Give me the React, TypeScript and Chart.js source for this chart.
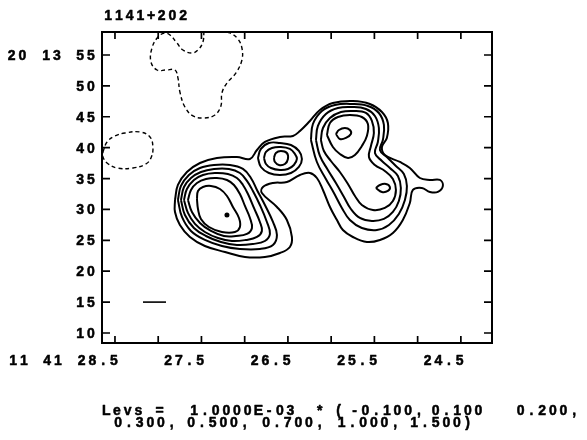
import React, { useEffect, useRef } from "react";
import { Chart, registerables } from "chart.js";

Chart.register(...registerables);

// ---------- DATA ----------
const sourceName = "1141+202";
const raPrefix = ["11", "41"];
const decPrefix = ["20", "13"];
const xTickValues = [28.5, 27.5, 26.5, 25.5, 24.5];
const xTickLabels = ["28.5", "27.5", "26.5", "25.5", "24.5"];
const xMinorTicks = [28.5, 28.0, 27.5, 27.0, 26.5, 26.0, 25.5, 25.0, 24.5];
const yTickValues = [10, 15, 20, 25, 30, 35, 40, 45, 50, 55];
const yTickLabels = ["10", "15", "20", "25", "30", "35", "40", "45", "50", "55"];
const levsLine1 = ["Levs", "=", "1.0000E-03", "*", "(", "-0.100,", "0.100", "0.200,"];
const levsLine2 = ["0.300,", "0.500,", "0.700,", "1.000,", "1.500)"];

// contour paths: [RA seconds, Dec arcsec]
const contourOuter = [
  [27.806, 31.53], [27.772, 33.96], [27.668, 36.06], [27.517, 37.52], [27.321, 38.33], [27.09, 38.49],
  [26.939, 38.17], [26.858, 39.62], [26.766, 40.92], [26.592, 41.73], [26.442, 41.89], [26.361, 42.7],
  [26.246, 44.32], [26.13, 46.1], [25.98, 47.23], [25.749, 47.55], [25.552, 47.07], [25.413, 45.77],
  [25.344, 43.99], [25.356, 41.57], [25.413, 40.11], [25.379, 38.81], [25.205, 37.68], [25.09, 36.71],
  [24.974, 35.09], [24.858, 34.77], [24.743, 34.77], [24.708, 33.8], [24.766, 32.83], [24.858, 32.83],
  [24.951, 33.47], [25.055, 33.15], [25.09, 31.05], [25.171, 28.29], [25.286, 26.19], [25.436, 25.06],
  [25.587, 24.73], [25.749, 25.54], [25.864, 26.67], [25.933, 28.29], [26.014, 30.4], [26.095, 33.15],
  [26.165, 35.09], [26.246, 35.9], [26.361, 35.58], [26.512, 34.44], [26.673, 34.28], [26.789, 33.63],
  [26.801, 32.66], [26.627, 30.4], [26.512, 28.29], [26.454, 25.54], [26.477, 23.92], [26.592, 22.95],
  [26.766, 22.3], [26.997, 22.3], [27.228, 23.11], [27.46, 24.08], [27.633, 25.54], [27.749, 27.48],
  [27.806, 29.59],
];
const contourMid02 = [
  [26.847, 38.33], [26.812, 39.79], [26.72, 40.76], [26.592, 40.76], [26.465, 40.43], [26.373, 39.46],
  [26.338, 38.17], [26.373, 36.87], [26.465, 35.9], [26.592, 35.58], [26.72, 35.9], [26.812, 36.87],
];
const contourMid03 = [
  [26.777, 38.33], [26.754, 39.3], [26.685, 39.95], [26.581, 40.11], [26.477, 39.79], [26.419, 38.98],
  [26.396, 38.17], [26.431, 37.19], [26.5, 36.55], [26.592, 36.39], [26.696, 36.71], [26.754, 37.36],
];
const contourMid05 = [
  [26.662, 38.33], [26.639, 39.14], [26.581, 39.46], [26.512, 39.14], [26.5, 38.17], [26.535, 37.36],
  [26.604, 37.19], [26.65, 37.68],
];
const contourLeft02 = [
  [27.772, 31.53], [27.737, 33.8], [27.645, 35.58], [27.517, 36.71], [27.355, 37.19], [27.17, 37.19],
  [27.02, 36.55], [26.928, 35.09], [26.858, 33.15], [26.766, 30.72], [26.673, 27.97], [26.627, 25.86],
  [26.673, 24.25], [26.824, 23.6], [27.055, 23.6], [27.263, 24.08], [27.46, 25.06], [27.621, 26.51],
  [27.725, 28.78],
];
const contourLeft03 = [
  [27.737, 31.53], [27.702, 33.63], [27.621, 35.09], [27.506, 36.06], [27.355, 36.55], [27.182, 36.55],
  [27.055, 35.9], [26.974, 34.61], [26.905, 32.99], [26.824, 30.72], [26.743, 27.97], [26.708, 26.03],
  [26.766, 24.89], [26.905, 24.41], [27.09, 24.25], [27.275, 24.73], [27.448, 25.7], [27.587, 27.0],
  [27.691, 29.1],
];
const contourLeft05 = [
  [27.702, 31.53], [27.668, 33.31], [27.587, 34.77], [27.483, 35.58], [27.344, 35.9], [27.194, 35.74],
  [27.09, 35.09], [27.02, 33.96], [26.962, 32.5], [26.893, 30.24], [26.824, 27.97], [26.801, 26.51],
  [26.858, 25.54], [26.986, 25.06], [27.147, 24.89], [27.309, 25.38], [27.46, 26.35], [27.575, 27.65],
  [27.656, 29.43],
];
const contourLeft07 = [
  [27.656, 31.53], [27.621, 33.15], [27.552, 34.28], [27.448, 34.93], [27.321, 35.09], [27.205, 34.77],
  [27.124, 33.96], [27.055, 32.5], [26.997, 30.56], [26.939, 28.62], [26.916, 27.0], [26.974, 26.03],
  [27.101, 25.7], [27.24, 25.7], [27.39, 26.51], [27.517, 27.81], [27.61, 29.59],
];
const contourLeft10 = [
  [27.552, 31.69], [27.54, 32.99], [27.483, 33.63], [27.39, 33.8], [27.286, 33.31], [27.205, 32.18],
  [27.136, 30.4], [27.066, 28.62], [27.055, 27.16], [27.113, 26.35], [27.263, 26.35], [27.413, 27.16],
  [27.506, 28.46], [27.54, 30.07],
];
const peakLeft15 = [[27.205, 29.1]];
const contourRight02 = [
  [26.234, 41.24], [26.211, 43.83], [26.107, 45.94], [25.957, 46.91], [25.76, 47.07], [25.575, 46.75],
  [25.448, 45.61], [25.39, 43.67], [25.402, 41.24], [25.436, 39.62], [25.356, 38.49], [25.251, 37.03],
  [25.159, 35.74], [25.124, 33.8], [25.147, 31.53], [25.217, 29.26], [25.332, 27.48], [25.471, 26.67],
  [25.645, 27.0], [25.783, 28.29], [25.876, 30.24], [25.968, 32.66], [26.061, 34.93], [26.165, 37.68],
];
const contourRight03 = [
  [26.176, 41.24], [26.153, 43.51], [26.061, 45.45], [25.922, 46.42], [25.76, 46.58], [25.598, 46.26],
  [25.494, 45.13], [25.448, 43.18], [25.46, 40.92], [25.494, 39.14], [25.413, 37.84], [25.321, 36.71],
  [25.228, 35.41], [25.194, 33.47], [25.217, 31.37], [25.286, 29.59], [25.39, 28.46], [25.529, 28.13],
  [25.668, 28.62], [25.772, 30.07], [25.852, 32.02], [25.945, 34.28], [26.038, 36.39], [26.13, 38.65],
];
const contourRight05 = [
  [26.119, 41.24], [26.095, 43.18], [26.014, 44.8], [25.887, 45.77], [25.737, 45.94], [25.598, 45.61],
  [25.529, 44.32], [25.506, 42.37], [25.54, 40.27], [25.563, 38.49], [25.494, 37.19], [25.379, 36.22],
  [25.286, 34.93], [25.251, 33.15], [25.286, 31.37], [25.379, 30.24], [25.517, 29.91], [25.645, 30.72],
  [25.725, 32.18], [25.806, 34.12], [25.899, 36.06], [26.003, 37.84], [26.084, 39.46],
];
const contourRightUpper07 = [
  [26.049, 42.05], [26.014, 43.99], [25.922, 44.96], [25.783, 45.29], [25.645, 44.96], [25.575, 43.83],
  [25.587, 41.89], [25.645, 40.27], [25.725, 38.81], [25.806, 38.33], [25.899, 38.98], [25.98, 40.11],
];
const contourRightUpper10 = [
  [25.945, 42.21], [25.91, 42.86], [25.841, 43.18], [25.783, 42.86], [25.772, 42.21], [25.829, 41.57],
  [25.899, 41.4],
];
const contourRightLower07 = [
  [25.483, 33.47], [25.436, 33.96], [25.367, 34.12], [25.321, 33.63], [25.344, 32.99], [25.413, 32.83],
];
const negativeTop = [
  [27.471, 58.88], [27.483, 57.1], [27.54, 55.81], [27.61, 55.32], [27.714, 55.81], [27.783, 56.94],
  [27.864, 58.24], [27.922, 58.56], [28.003, 57.91], [28.072, 56.13], [28.084, 53.87], [28.014, 52.57],
  [27.91, 52.57], [27.806, 52.57], [27.772, 51.28], [27.749, 49.01], [27.691, 46.58], [27.598, 45.13],
  [27.471, 44.8], [27.344, 45.29], [27.275, 46.75], [27.263, 48.85], [27.205, 50.47], [27.101, 52.09],
  [27.032, 54.19], [27.032, 56.13], [27.078, 57.59], [27.17, 58.56], [27.263, 58.88],
];
const negativeLeft = [
  [28.639, 39.3], [28.592, 40.92], [28.5, 41.89], [28.384, 42.37], [28.211, 42.54], [28.095, 41.73],
  [28.061, 39.95], [28.084, 38.33], [28.142, 37.36], [28.292, 36.71], [28.477, 36.71], [28.592, 37.52],
  [28.639, 38.49],
];
const beamBar = [[28.176, 15.0], [27.91, 15.0]];

const closedContours = [
  contourOuter, contourMid02, contourMid03, contourMid05,
  contourLeft02, contourLeft03, contourLeft05, contourLeft07, contourLeft10,
  contourRight02, contourRight03, contourRight05, contourRightUpper07, contourRightUpper10, contourRightLower07,
];

// ---------- helpers ----------
const toPts = (arr: number[][], close: boolean) => {
  const p = arr.map(([x, y]) => ({ x, y }));
  if (close) p.push({ x: arr[0][0], y: arr[0][1] });
  return p;
};

const FONT = "bold 14px 'Liberation Sans', Arial, sans-serif";
const CELL = 10.7;
const GLYPH = 8.4;

// fixed-pitch drawing: each character centred in its own cell
function drawMono(ctx: CanvasRenderingContext2D, text: string, x: number, baseline: number) {
  ctx.textAlign = "center";
  for (let i = 0; i < text.length; i++) {
    const cx = x + i * CELL + GLYPH / 2;
    ctx.strokeText(text[i], cx, baseline);
    ctx.fillText(text[i], cx, baseline);
  }
}
function monoWidth(text: string) {
  return (text.length - 1) * CELL + GLYPH;
}

const framePlugin = {
  id: "framePlugin",
  afterDraw(chart: any) {
    const { ctx, chartArea } = chart;
    const xs = chart.scales.x;
    const ys = chart.scales.y;
    const { left, right, top, bottom } = chartArea;
    ctx.save();
    ctx.strokeStyle = "#000";
    ctx.fillStyle = "#000";
    ctx.lineWidth = 2;
    ctx.strokeRect(left, top, right - left, bottom - top);
    ctx.lineWidth = 1.7;
    ctx.beginPath();
    xMinorTicks.forEach((v) => {
      const px = xs.getPixelForValue(v);
      ctx.moveTo(px, bottom);
      ctx.lineTo(px, bottom - 7);
      ctx.moveTo(px, top);
      ctx.lineTo(px, top + 7);
    });
    yTickValues.forEach((v) => {
      const py = ys.getPixelForValue(v);
      ctx.moveTo(left, py);
      ctx.lineTo(left + 8, py);
      ctx.moveTo(right, py);
      ctx.lineTo(right - 8, py);
    });
    ctx.stroke();

    ctx.font = FONT;
    ctx.textBaseline = "alphabetic";
    ctx.lineWidth = 0.5;
    ctx.lineJoin = "round";
    // title
    drawMono(ctx, sourceName, 104, 20);
    // y labels
    yTickValues.forEach((v, i) => {
      const py = ys.getPixelForValue(v);
      const t = yTickLabels[i];
      drawMono(ctx, t, left - 7 - monoWidth(t), py + 5);
    });
    const py55 = ys.getPixelForValue(55);
    drawMono(ctx, decPrefix[0], 7.5, py55 + 5);
    drawMono(ctx, decPrefix[1], 42, py55 + 5);
    // x labels
    const xBase = bottom + 22;
    xTickValues.forEach((v, i) => {
      const px = xs.getPixelForValue(v);
      const t = xTickLabels[i];
      drawMono(ctx, t, px + 3 - monoWidth(t), xBase);
    });
    drawMono(ctx, raPrefix[0], 9, xBase);
    drawMono(ctx, raPrefix[1], 43, xBase);
    // levels text
    const l1x = [102, 155.5, 190, 315.5, 334.5, 350.5, 431.5, 516.5];
    levsLine1.forEach((t, i) => drawMono(ctx, t, l1x[i], 415));
    const l2x = [114, 187, 262, 337.5, 410];
    levsLine2.forEach((t, i) => drawMono(ctx, t, l2x[i], 427));
    ctx.restore();
  },
};

export default function App() {
  const ref = useRef<HTMLCanvasElement>(null);
  useEffect(() => {
    if (!ref.current) return;
    const solid = (arr: number[][]) => ({
      data: toPts(arr, true),
      showLine: true,
      borderColor: "#000",
      borderWidth: 2,
      pointRadius: 0,
      tension: 0.4,
      fill: false,
    });
    const datasets: any[] = closedContours.map(solid);
    datasets.push({
      data: toPts(negativeTop, false),
      showLine: true,
      borderColor: "#000",
      borderWidth: 1.4,
      borderDash: [4, 3],
      pointRadius: 0,
      tension: 0.4,
    });
    datasets.push({
      data: toPts(negativeLeft, true),
      showLine: true,
      borderColor: "#000",
      borderWidth: 1.4,
      borderDash: [4, 3],
      pointRadius: 0,
      tension: 0.4,
    });
    datasets.push({
      data: toPts(peakLeft15, false),
      showLine: false,
      pointRadius: 2.5,
      pointBackgroundColor: "#000",
      pointBorderColor: "#000",
      pointBorderWidth: 0,
    });
    datasets.push({
      data: toPts(beamBar, false),
      showLine: true,
      borderColor: "#000",
      borderWidth: 1.6,
      pointRadius: 0,
    });
    const chart = new Chart(ref.current, {
      type: "scatter",
      data: { datasets },
      options: {
        animation: false,
        responsive: false,
        devicePixelRatio: 1,
        layout: { padding: { left: 102, top: 32, right: 95, bottom: 97 } },
        plugins: { legend: { display: false }, tooltip: { enabled: false } },
        scales: {
          x: { type: "linear", min: 24.14, max: 28.65, reverse: true, display: false },
          y: { type: "linear", min: 8.38, max: 58.72, display: false },
        },
      },
      plugins: [framePlugin],
    });
    return () => chart.destroy();
  }, []);
  return (
    <div style={{ position: "absolute", left: 0, top: 0, width: 587, height: 440, background: "#fff" }}>
      <canvas ref={ref} width={587} height={440} style={{ display: "block" }} />
    </div>
  );
}
